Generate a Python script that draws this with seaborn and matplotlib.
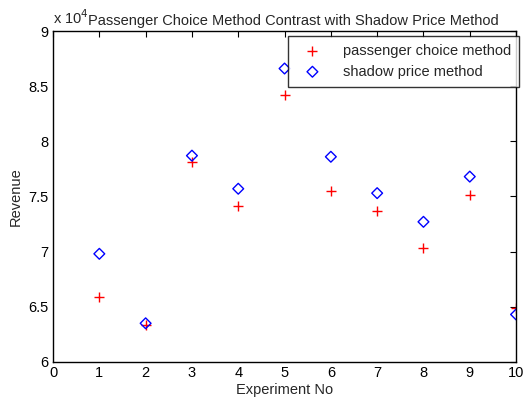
import numpy as np
import pandas as pd
import seaborn as sns
import matplotlib.pyplot as plt

# values in units of 10^4
experiment = [1, 2, 3, 4, 5, 6, 7, 8, 9, 10]
passenger_choice = [6.59, 6.33, 7.81, 7.41, 8.42, 7.55, 7.37, 7.03, 7.51, 6.49]
shadow_price = [6.98, 6.35, 7.87, 7.57, 8.66, 7.86, 7.53, 7.27, 7.68, 6.43]

sns.set_style('white')
plt.rcParams['font.family'] = ['Liberation Sans', 'DejaVu Sans']

fig = plt.figure(figsize=(5.25, 4.03), dpi=100)
ax = fig.add_axes([0.101, 0.102, 0.882, 0.821])

sns.scatterplot(x=experiment, y=passenger_choice, ax=ax, marker='+', color='red',
                s=45, linewidth=1, label='passenger choice method')
sns.scatterplot(x=experiment, y=shadow_price, ax=ax, marker='D', facecolor='none',
                edgecolor='blue', s=30, linewidth=1, label='shadow price method')

ax.set_xlim(0, 10)
ax.set_ylim(6, 9)
ax.set_xticks(range(0, 11))
ax.set_yticks([6, 6.5, 7, 7.5, 8, 8.5, 9])
ax.set_yticklabels(['6', '6.5', '7', '7.5', '8', '8.5', '9'])
ax.tick_params(direction='in', top=True, right=True, length=4, width=0.8,
               labelsize=10.5, colors='black', pad=3)
for sp in ax.spines.values():
    sp.set_color('black')
    sp.set_linewidth(1)

ax.set_xlabel('Experiment No', fontsize=10.5, labelpad=2)
ax.set_ylabel('Revenue', fontsize=10.5, labelpad=4)
ax.text(0.0, 1.012, 'x 10$^{4}$', transform=ax.transAxes, fontsize=10.5,
        ha='left', va='bottom')
ax.set_title('Passenger Choice Method Contrast with Shadow Price Method',
             fontsize=10.5, pad=4, x=0.519)

leg = ax.legend(loc='upper right', bbox_to_anchor=(1.007, 0.985), fontsize=10.5,
                frameon=True, fancybox=False, borderaxespad=0, handletextpad=1.0,
                borderpad=0.55, labelspacing=0.45, handlelength=2.2)
leg.get_frame().set_edgecolor('black')
leg.get_frame().set_linewidth(1)

fig.savefig('out.png', dpi=100)
